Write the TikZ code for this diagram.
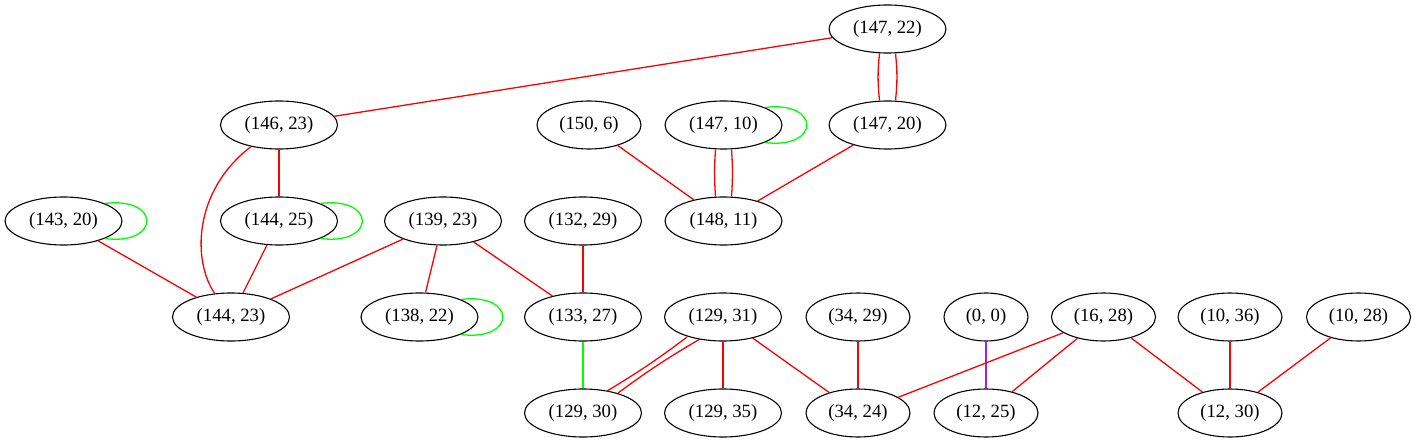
\documentclass[tikz,border=0pt]{standalone}
\usepackage{fontspec}
\setmainfont{Liberation Serif}
\usetikzlibrary{shapes.geometric}
\definecolor{gvpurple}{RGB}{160,32,240}
\begin{document}
\begin{tikzpicture}[x=1bp,y=-1bp,
  nd/.style={ellipse,draw,line width=1.1bp,inner sep=0pt,minimum height=48bp,minimum width=117bp,font=\fontsize{18.7bp}{22bp}\selectfont},
  sm/.style={minimum width=104bp},
  xs/.style={minimum width=84bp},
  re/.style={draw=red,line width=1.3bp},
  gr/.style={draw=green,line width=1.3bp},
  pu/.style={draw=gvpurple,line width=1.3bp}]
\useasboundingbox (0,0) rectangle (1417,443);
% row 1
\node[nd] (a14722) at (887.5,29) {(147, 22)};
% row 2
\node[nd] (a14623) at (279,125) {(146, 23)};
\node[nd,sm] (a1506) at (589,125) {(150, 6)};
\node[nd] (a14710) at (723.5,125) {(147, 10)};
\node[nd] (a14720) at (887.5,125) {(147, 20)};
% row 3
\node[nd] (a14320) at (63.5,221) {(143, 20)};
\node[nd] (a14425) at (279,221) {(144, 25)};
\node[nd] (a13923) at (443,221) {(139, 23)};
\node[nd] (a13229) at (583,221) {(132, 29)};
\node[nd] (a14811) at (723.5,221) {(148, 11)};
% row 4
\node[nd] (a14423) at (231,317) {(144, 23)};
\node[nd] (a13822) at (419.5,317) {(138, 22)};
\node[nd] (a13327) at (583,317) {(133, 27)};
\node[nd] (a12931) at (723,317) {(129, 31)};
\node[nd,sm] (a3429) at (858,317) {(34, 29)};
\node[nd,xs] (a00) at (986,317) {(0, 0)};
\node[nd,sm] (a1628) at (1103.5,317) {(16, 28)};
\node[nd,sm] (a1036) at (1230,317) {(10, 36)};
\node[nd,sm] (a1028) at (1358.5,317) {(10, 28)};
% row 5
\node[nd] (a12930) at (583,413) {(129, 30)};
\node[nd] (a12935) at (723,413) {(129, 35)};
\node[nd,sm] (a3424) at (858,413) {(34, 24)};
\node[nd,sm] (a1225) at (986,413) {(12, 25)};
\node[nd,sm] (a1230) at (1230,413) {(12, 30)};
% edges
\draw[re] (a14722) -- (a14623);
\draw[re] ([xshift=-8bp]a14722.south) to[bend right=6] ([xshift=-8bp]a14720.north);
\draw[re] ([xshift=8bp]a14722.south) to[bend left=6] ([xshift=8bp]a14720.north);
\draw[re] (a14623) -- (a14425);
\draw[re] (a14623) .. controls (192,192) and (193,262) .. (a14423);
\draw[re] (a1506) -- (a14811);
\draw[re] ([xshift=-8bp]a14710.south) to[bend right=4] ([xshift=-8bp]a14811.north);
\draw[re] ([xshift=8bp]a14710.south) to[bend left=4] ([xshift=8bp]a14811.north);
\draw[re] (a14720) -- (a14811);
\draw[re] (a14320) -- (a14423);
\draw[re] (a14425) -- (a14423);
\draw[re] (a13923) -- (a14423);
\draw[re] (a13923) -- (a13822);
\draw[re] (a13923) -- (a13327);
\draw[re] (a13229) -- (a13327);
\draw[gr] (a13327) -- (a12930);
\draw[re] ([shift={(-36,20)}]a12931.center) to[bend left=3] ([shift={(24,-22)}]a12930.center);
\draw[re] ([shift={(-23,22)}]a12931.center) to[bend right=3] ([shift={(35,-20)}]a12930.center);
\draw[re] (a12931) -- (a12935);
\draw[re] (a12931) -- (a3424);
\draw[re] (a3429) -- (a3424);
\draw[pu] (a00) -- (a1225);
\draw[re] (a1628) -- (a3424);
\draw[re] (a1628) -- (a1225);
\draw[re] (a1628) -- (a1230);
\draw[re] (a1036) -- (a1230);
\draw[re] (a1028) -- (a1230);
% self loops
\foreach \n in {a14710,a14320,a14425,a13822}{
  \draw[gr] (\n.23) .. controls +(56,-7) and +(56,7) .. (\n.-23);
}
\end{tikzpicture}
\end{document}
